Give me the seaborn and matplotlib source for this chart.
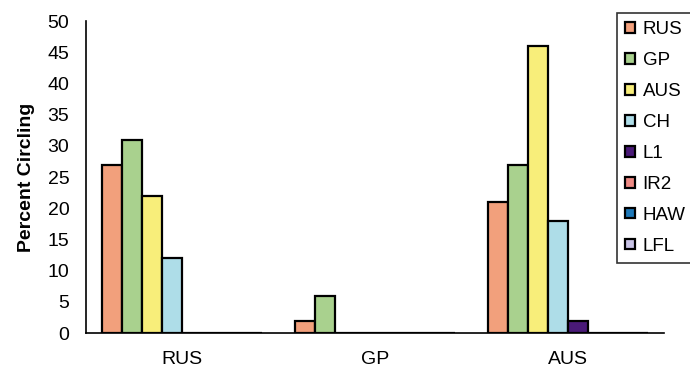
import matplotlib
matplotlib.use("Agg")
import matplotlib.pyplot as plt
import seaborn as sns
import pandas as pd

groups = ["RUS", "GP", "AUS"]
series = ["RUS", "GP", "AUS", "CH", "L1", "IR2", "HAW", "LFL"]
vals_RUS = [27, 31, 22, 12, 0, 0, 0, 0]
vals_GP = [2, 6, 0, 0, 0, 0, 0, 0]
vals_AUS = [21, 27, 46, 18, 2, 0, 0, 0]
colors = ["#F2A07C", "#A9D18E", "#F8EE7A", "#AEDDE8", "#4A1A78", "#EE8A84", "#1E78B8", "#C9C3E6"]

rows = []
for g, vals in zip(groups, [vals_RUS, vals_GP, vals_AUS]):
    for s, v in zip(series, vals):
        rows.append({"group": g, "series": s, "value": v})
df = pd.DataFrame(rows)

sns.set_style("white")
plt.rcParams["font.family"] = ["Liberation Sans", "DejaVu Sans"]
plt.rcParams["text.color"] = "black"
plt.rcParams["xtick.color"] = "black"
plt.rcParams["ytick.color"] = "black"
plt.rcParams["axes.labelcolor"] = "black"

fig = plt.figure(figsize=(6.9, 3.69), dpi=100)
ax = fig.add_axes([86/690, 1-333/369, (664-86)/690, (333-21)/369])

sns.barplot(data=df, x="group", y="value", hue="series", order=groups, hue_order=series,
            palette=colors, width=0.83, edgecolor="black", linewidth=1.6, ax=ax,
            saturation=1, legend=True)

ax.set_ylim(0, 50)
ax.set_xlim(-0.5, 2.5)
ax.set_yticks(range(0, 51, 5))
ax.set_ylabel("Percent Circling", fontsize=14, fontweight="bold", labelpad=9)
ax.set_xlabel("")
ax.set_xticks([0, 1, 2])
ax.set_xticklabels(groups)
ax.set_xticks([-0.5, 0.5, 1.5, 2.5], minor=True)
ax.tick_params(axis="x", which="major", length=0, labelsize=14, pad=13)
ax.tick_params(axis="x", which="minor", length=7, width=1.2, direction="out", color="black")
ax.tick_params(axis="y", length=6, width=1.2, direction="out", labelsize=14, color="black", pad=6)
for side in ["top", "right"]:
    ax.spines[side].set_visible(False)
for side in ["left", "bottom"]:
    ax.spines[side].set_color("black")
    ax.spines[side].set_linewidth(1.2)

handles, labels = ax.get_legend_handles_labels()
ax.legend_.remove()
leg = fig.legend(handles, labels, loc="upper left", bbox_to_anchor=(617/690, 1-13/369),
                 frameon=True, fontsize=13.5, handlelength=0.5, handleheight=0.5,
                 labelspacing=0.74, handletextpad=0.42, borderpad=0.45, borderaxespad=0,
                 fancybox=False)
leg.get_frame().set_edgecolor("black")
leg.get_frame().set_linewidth(1.2)

fig.savefig("out.png", dpi=100)
